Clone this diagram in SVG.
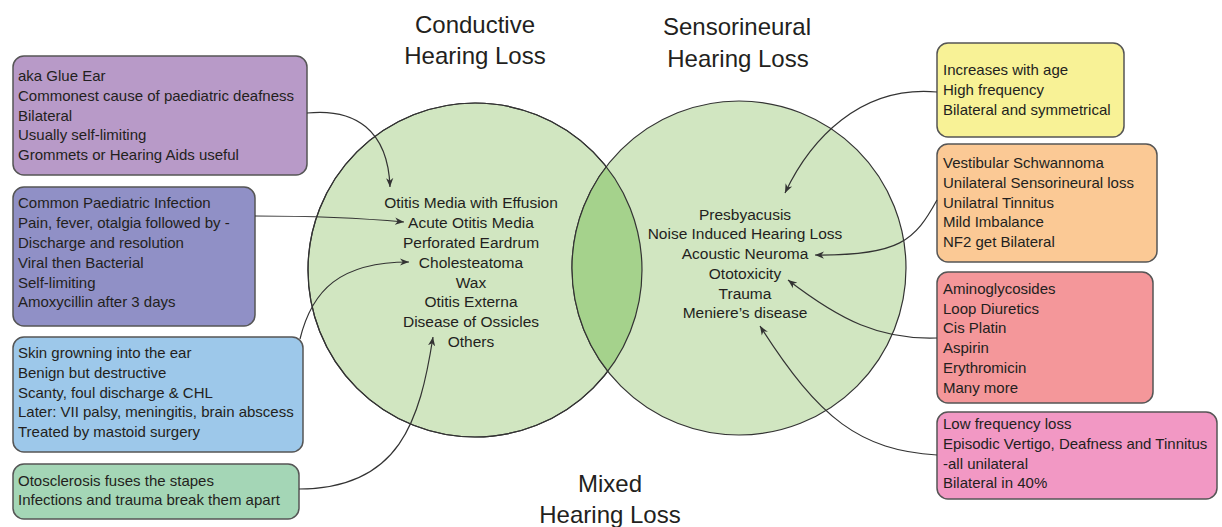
<svg xmlns="http://www.w3.org/2000/svg" width="1222" height="527" viewBox="0 0 1222 527">
<defs>
<style>
.title{font-family:"Liberation Sans",Arial,sans-serif;font-size:24px;fill:#231f20;text-anchor:middle}
.item{font-family:"Liberation Sans",Arial,sans-serif;font-size:15.5px;fill:#231f20;text-anchor:middle}
.box{stroke:#555;stroke-width:1.5}
.bt{font-family:"Liberation Sans",Arial,sans-serif;font-size:15px;fill:#231f20}
.circ{fill:#d1e6c1;stroke:#333;stroke-width:1.2}
.conn{fill:none;stroke:#333;stroke-width:1.2}
</style>
<marker id="arr" viewBox="0 0 10 10" refX="10" refY="5" markerWidth="9" markerHeight="9" markerUnits="userSpaceOnUse" orient="auto">
<path d="M0,1 L10,5 L0,9 L3,5 Z" fill="#333"/>
</marker>
<clipPath id="lc"><circle cx="475" cy="270" r="167"/></clipPath>
</defs>
<rect width="1222" height="527" fill="#fff"/>

<g id="venn">
<circle class="circ" cx="475" cy="270" r="167"/>
<circle class="circ" cx="739" cy="268" r="167"/>
<circle cx="739" cy="268" r="167" fill="#a5d28c" stroke="#333" stroke-width="1.2" clip-path="url(#lc)"/>
<circle cx="475" cy="270" r="167" fill="none" stroke="#333" stroke-width="1.2"/>
</g>

<g id="titles">
<text class="title" x="475" y="33">Conductive</text>
<text class="title" x="475" y="64">Hearing Loss</text>
<text class="title" x="737" y="35">Sensorineural</text>
<text class="title" x="738" y="67">Hearing Loss</text>
<text class="title" x="610" y="492">Mixed</text>
<text class="title" x="610" y="523">Hearing Loss</text>
</g>

<g id="conductive-list">
<text class="item" x="471" y="208">Otitis Media with Effusion</text>
<text class="item" x="471" y="228">Acute Otitis Media</text>
<text class="item" x="471" y="248">Perforated Eardrum</text>
<text class="item" x="471" y="268">Cholesteatoma</text>
<text class="item" x="471" y="288">Wax</text>
<text class="item" x="471" y="307">Otitis Externa</text>
<text class="item" x="471" y="327">Disease of Ossicles</text>
<text class="item" x="471" y="347">Others</text>
</g>

<g id="sensorineural-list">
<text class="item" x="745" y="220">Presbyacusis</text>
<text class="item" x="745" y="239">Noise Induced Hearing Loss</text>
<text class="item" x="745" y="259">Acoustic Neuroma</text>
<text class="item" x="745" y="279">Ototoxicity</text>
<text class="item" x="745" y="299">Trauma</text>
<text class="item" x="745" y="318">Meniere’s disease</text>
</g>

<g id="box-glue-ear">
<rect class="box" x="13" y="56" width="294" height="119" rx="11" fill="#b89ac8"/>
<text class="bt" x="18" y="81">aka Glue Ear</text>
<text class="bt" x="18" y="101">Commonest cause of paediatric deafness</text>
<text class="bt" x="18" y="121">Bilateral</text>
<text class="bt" x="18" y="140">Usually self-limiting</text>
<text class="bt" x="18" y="160">Grommets or Hearing Aids useful</text>
</g>

<g id="box-aom">
<rect class="box" x="13" y="187" width="242" height="139" rx="11" fill="#9090c6"/>
<text class="bt" x="18" y="208">Common Paediatric Infection</text>
<text class="bt" x="18" y="228">Pain, fever, otalgia followed by -</text>
<text class="bt" x="18" y="248">Discharge and resolution</text>
<text class="bt" x="18" y="268">Viral then Bacterial</text>
<text class="bt" x="18" y="288">Self-limiting</text>
<text class="bt" x="18" y="307">Amoxycillin after 3 days</text>
</g>

<g id="box-cholesteatoma">
<rect class="box" x="13" y="337" width="290" height="115" rx="11" fill="#9dc8ea"/>
<text class="bt" x="18" y="358">Skin growning into the ear</text>
<text class="bt" x="18" y="378">Benign but destructive</text>
<text class="bt" x="18" y="398">Scanty, foul discharge &amp; CHL</text>
<text class="bt" x="18" y="417">Later: VII palsy, meningitis, brain abscess</text>
<text class="bt" x="18" y="437">Treated by mastoid surgery</text>
</g>

<g id="box-ossicles">
<rect class="box" x="13" y="464" width="286" height="55" rx="11" fill="#a4d6b6"/>
<text class="bt" x="18" y="486">Otosclerosis fuses the stapes</text>
<text class="bt" x="18" y="505">Infections and trauma break them apart</text>
</g>

<g id="box-presbyacusis">
<rect class="box" x="937" y="43" width="187" height="94" rx="11" fill="#f8f296"/>
<text class="bt" x="943" y="75">Increases with age</text>
<text class="bt" x="943" y="95">High frequency</text>
<text class="bt" x="943" y="115">Bilateral and symmetrical</text>
</g>

<g id="box-neuroma">
<rect class="box" x="937" y="144" width="220" height="118" rx="11" fill="#fbc995"/>
<text class="bt" x="943" y="168">Vestibular Schwannoma</text>
<text class="bt" x="943" y="188">Unilateral Sensorineural loss</text>
<text class="bt" x="943" y="208">Unilatral Tinnitus</text>
<text class="bt" x="943" y="227">Mild Imbalance</text>
<text class="bt" x="943" y="247">NF2 get Bilateral</text>
</g>

<g id="box-ototoxicity">
<rect class="box" x="937" y="272" width="216" height="131" rx="11" fill="#f4979a"/>
<text class="bt" x="943" y="294">Aminoglycosides</text>
<text class="bt" x="943" y="314">Loop Diuretics</text>
<text class="bt" x="943" y="333">Cis Platin</text>
<text class="bt" x="943" y="353">Aspirin</text>
<text class="bt" x="943" y="373">Erythromicin</text>
<text class="bt" x="943" y="393">Many more</text>
</g>

<g id="box-meniere">
<rect class="box" x="937" y="412" width="280" height="87" rx="11" fill="#f298c4"/>
<text class="bt" x="943" y="429">Low frequency loss</text>
<text class="bt" x="943" y="449">Episodic Vertigo, Deafness and Tinnitus</text>
<text class="bt" x="943" y="469">-all unilateral</text>
<text class="bt" x="943" y="488">Bilateral in 40%</text>
</g>

<g id="connectors">
<path class="conn" marker-end="url(#arr)" d="M307,113 C355,108 388,130 390,187"/>
<path class="conn" marker-end="url(#arr)" d="M255,216 C300,216 360,218 404,222"/>
<path class="conn" marker-end="url(#arr)" d="M300,339 C312,290 340,262 409,262"/>
<path class="conn" marker-end="url(#arr)" d="M299,489 C400,489 420,420 433,337"/>
<path class="conn" marker-end="url(#arr)" d="M937,92 C860,85 810,140 785,193"/>
<path class="conn" marker-end="url(#arr)" d="M937,200 C915,240 900,256 815,255"/>
<path class="conn" marker-end="url(#arr)" d="M937,338 C880,340 840,320 788,280"/>
<path class="conn" marker-end="url(#arr)" d="M937,455 C860,450 820,420 760,326"/>
</g>
</svg>
